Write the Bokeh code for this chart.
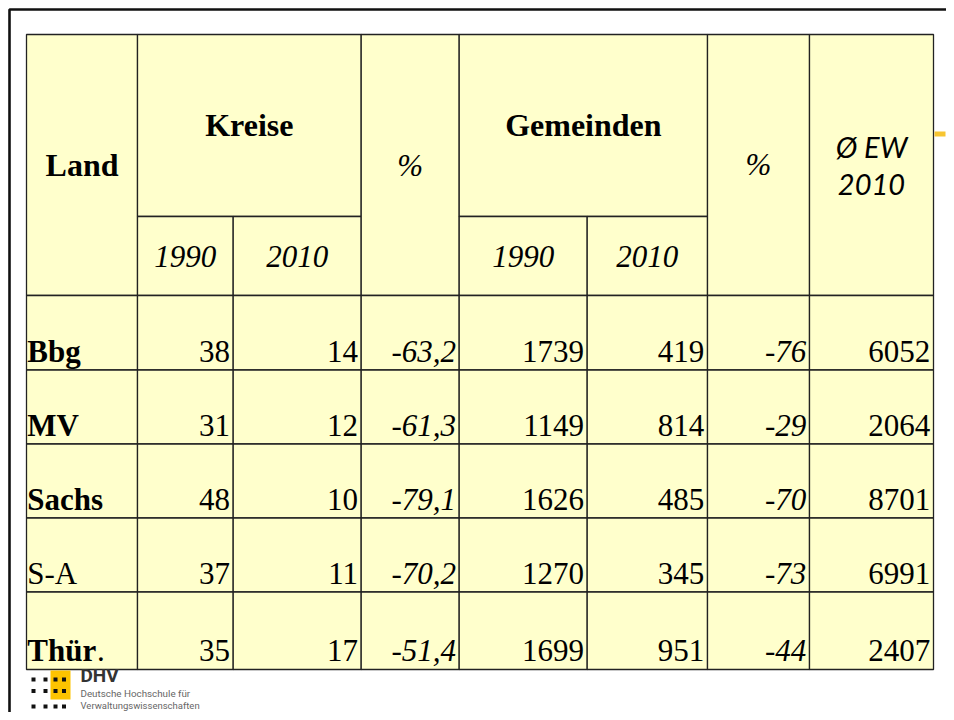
from bokeh.plotting import figure
from bokeh.models import Range1d, ColumnDataSource
from bokeh.core.properties import value
from bokeh.embed import file_html
from bokeh.resources import INLINE

# ---------------- data ----------------
laender = ["Bbg", "MV", "Sachs", "S-A", "Thür"]
land_bold = [True, True, True, False, True]
kreise_1990 = [38, 31, 48, 37, 35]
kreise_2010 = [14, 12, 10, 11, 17]
kreise_pct = [-63.2, -61.3, -79.1, -70.2, -51.4]
gem_1990 = [1739, 1149, 1626, 1270, 1699]
gem_2010 = [419, 814, 485, 345, 951]
gem_pct = [-76, -29, -70, -73, -44]
ew_2010 = [6052, 2064, 8701, 6991, 2407]
year_labels = ["1990", "2010"]

# ---------------- layout (pixel space) ----------------
W, H = 946, 712
col_edges = [26, 137, 232.7, 360.7, 458.7, 586.7, 707, 809, 933]
head_top, head_mid, head_bot = 34, 216, 295
row_edges = [295, 369.5, 443.5, 517.5, 591.5, 669]

SERIF = "Liberation Serif"
FILL = "#FFFFCC"
LINE = "#222222"
BASE_FIX = 0.37   # renderer places alphabetic baseline ~0.37em low

p = figure(width=W, height=H, output_backend="svg", toolbar_location=None,
           x_range=Range1d(0, W), y_range=Range1d(H, 0),
           x_axis_type=None, y_axis_type=None, min_border=0,
           outline_line_color=None, background_fill_color="white",
           border_fill_color="white")
p.xgrid.visible = False
p.ygrid.visible = False

# slide frame (top & left edges visible)
p.line(x=[9, 9, W], y=[H, 9, 9], line_color="#111111", line_width=2.6)

# ---------------- cells ----------------
L, R, T, B = [], [], [], []
def cell(c0, c1, t, b):
    L.append(col_edges[c0]); R.append(col_edges[c1]); T.append(t); B.append(b)

cell(0, 1, head_top, head_bot)      # Land
cell(1, 3, head_top, head_mid)      # Kreise
cell(1, 2, head_mid, head_bot)      # 1990
cell(2, 3, head_mid, head_bot)      # 2010
cell(3, 4, head_top, head_bot)      # %
cell(4, 6, head_top, head_mid)      # Gemeinden
cell(4, 5, head_mid, head_bot)
cell(5, 6, head_mid, head_bot)
cell(6, 7, head_top, head_bot)      # %
cell(7, 8, head_top, head_bot)      # Ø EW 2010
for r in range(len(laender)):
    for c in range(8):
        cell(c, c + 1, row_edges[r], row_edges[r + 1])

p.quad(left=L, right=R, top=T, bottom=B, fill_color=FILL,
       line_color=LINE, line_width=1.3)

# small yellow mark at right edge
p.quad(left=[934], right=[945], top=[131], bottom=[136],
       fill_color="#F7C531", line_color=None)

def txt(xs, ys, texts, align="center", font=SERIF, size=31,
        style="normal", color="black"):
    ys = [y - BASE_FIX * size for y in ys]
    src = ColumnDataSource(dict(x=xs, y=ys, t=texts))
    p.text(x="x", y="y", text="t", source=src, text_align=align,
           text_baseline="alphabetic", text_font=value(font),
           text_font_size=value(f"{size}px"), text_font_style=value(style),
           text_color=color)

def cx(c0, c1):
    return (col_edges[c0] + col_edges[c1]) / 2

# ---------------- header texts ----------------
txt([cx(0, 1)], [176.7], ["Land"], size=32, style="bold")
txt([cx(1, 3), cx(4, 6)], [136.7, 136.7], ["Kreise", "Gemeinden"],
    size=32, style="bold")
txt([cx(3, 4), cx(6, 7)], [176.7, 175.5], ["%", "%"], size=31, style="italic")
txt([cx(1, 2), cx(2, 3), cx(4, 5), cx(5, 6)], [267.7] * 4,
    year_labels + year_labels, size=31, style="italic")
txt([cx(7, 8), cx(7, 8)], [156.7, 195], ["Ø EW", "2010"], font="Lato",
    size=29, style="italic")

# ---------------- body texts ----------------
ys = [row_edges[r + 1] - 7.5 for r in range(len(laender))]

for i, name in enumerate(laender):
    st = "bold" if land_bold[i] else "normal"
    txt([col_edges[0] + 0.8], [ys[i]], [name], align="left", size=31, style=st)
txt([col_edges[0] + 70.5], [ys[-1]], ["."], align="left", size=31)

def fmt_pct(v):
    return f"{v:.1f}".replace(".", ",")

columns = [
    ([str(v) for v in kreise_1990], "normal"),
    ([str(v) for v in kreise_2010], "normal"),
    ([fmt_pct(v) for v in kreise_pct], "italic"),
    ([str(v) for v in gem_1990], "normal"),
    ([str(v) for v in gem_2010], "normal"),
    ([str(v) for v in gem_pct], "italic"),
    ([str(v) for v in ew_2010], "normal"),
]
for ci, (vals, st) in enumerate(columns):
    xr = col_edges[ci + 2] - 3.2
    txt([xr] * len(vals), ys, vals, align="right", size=31, style=st)

# ---------------- DHV logo ----------------
p.quad(left=[50], right=[70], top=[670], bottom=[699],
       fill_color="#FDC300", line_color=None)
sq_x = [33, 45, 55, 63.5]
sq_y = [679, 690.5, 706]
rx, ry = [], []
for yv in sq_y:
    for xv in sq_x:
        rx.append(xv); ry.append(yv)
p.rect(x=rx, y=ry, width=4, height=4, fill_color="#111111", line_color=None)

txt([80], [682.5], ["DHV"], align="left", font="Roboto", size=19,
    style="bold", color="#333333")
txt([80], [696.7], ["Deutsche Hochschule für"], align="left", font="Roboto",
    size=9.8, color="#666666")
txt([80], [709], ["Verwaltungswissenschaften"], align="left", font="Roboto",
    size=9.5, color="#666666")

open("out.html", "w").write(file_html(p, INLINE))
